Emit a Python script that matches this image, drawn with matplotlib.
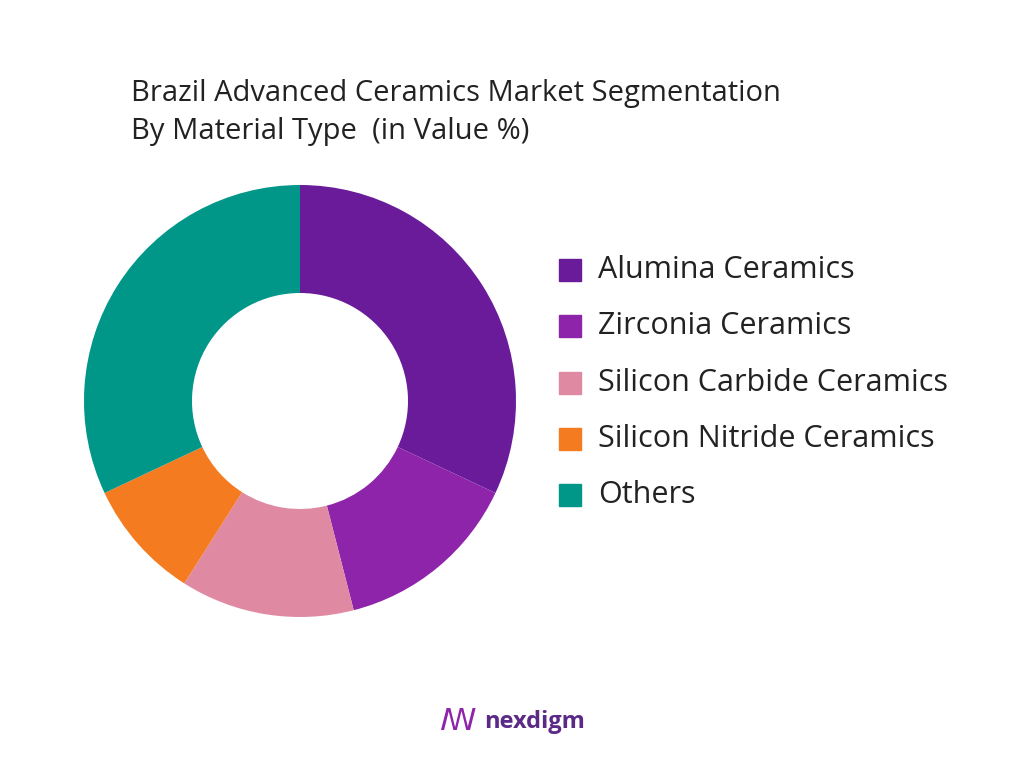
import matplotlib.pyplot as plt
from matplotlib.patches import Rectangle

labels = ['Alumina Ceramics', 'Zirconia Ceramics', 'Silicon Carbide Ceramics',
          'Silicon Nitride Ceramics', 'Others']
values = [32, 14, 13, 9, 32]
colors = ['#6A1B9A', '#8E24AA', '#DF89A2', '#F47B20', '#009688']

plt.rcParams['font.family'] = ['Open Sans', 'DejaVu Sans']

fig = plt.figure(figsize=(10.24, 7.68), dpi=100)

# donut
ax = fig.add_axes([(300 - 216) / 1024, 1 - (401 + 216) / 768, 432 / 1024, 432 / 768])
ax.pie(values, colors=colors, startangle=90, counterclock=False,
       wedgeprops=dict(width=0.5, edgecolor='none'))
ax.set_xlim(-1, 1)
ax.set_ylim(-1, 1)
ax.set_aspect('equal')

# title
fig.text(131 / 1024, 1 - 94 / 768, 'Brazil Advanced Ceramics Market Segmentation',
         fontsize=21, color='#222222', va='center')
fig.text(131 / 1024, 1 - 132 / 768, 'By Material Type  (in Value %)',
         fontsize=21, color='#222222', va='center')

# legend
ys = [270, 326, 383, 439, 495]
for lab, col, y in zip(labels, colors, ys):
    fig.patches.append(Rectangle((559 / 1024, 1 - (y + 11) / 768), 22 / 1024, 22 / 768,
                                 transform=fig.transFigure, color=col))
    fig.text(598 / 1024, 1 - y / 768, lab, fontsize=22, color='#222222', va='center')

# logo
fig.text(440 / 1024, 1 - 722 / 768, 'ꟿ', fontsize=22, color='#8E24AA', va='center',
         family=['DejaVu Sans'])
fig.text(484 / 1024, 1 - 722 / 768, 'nexdigm', fontsize=17, color='#5B2A86',
         va='center', weight='bold')

fig.savefig('out.png', dpi=100)
